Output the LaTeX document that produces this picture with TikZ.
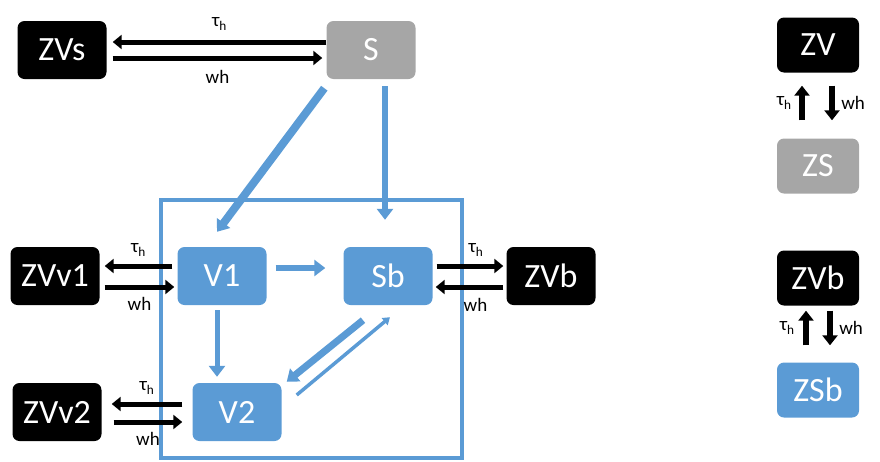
\documentclass[tikz,border=0pt]{standalone}
\usepackage{fontspec}
\setmainfont{Carlito}
\usetikzlibrary{arrows.meta}
\definecolor{zblue}{HTML}{5B9BD5}
\definecolor{zgray}{HTML}{A6A6A6}
\begin{document}
\begin{tikzpicture}[x=1pt,y=-1pt,
  box/.style={rounded corners=7pt,inner sep=0pt,minimum width=89pt,minimum height=58pt,
    text=white,font=\fontsize{34}{36}\selectfont},
  blk/.style={box,fill=black},
  gry/.style={box,fill=zgray},
  blu/.style={box,fill=zblue},
  sml/.style={minimum width=82pt,minimum height=55pt},
  flow/.style={line width=5pt,-{Triangle[length=9pt,width=14pt]}},
  upflow/.style={line width=6pt,-{Triangle[length=10pt,width=15pt]}},
  link/.style={zblue,line width=#1,-{Triangle[length=11pt,width=16pt]}},
  lbl/.style={font=\fontsize{19}{21}\selectfont}]
\useasboundingbox (0,0) rectangle (880,461);
\draw[zblue,line width=3.5pt] (161,200) rectangle (462,458);
\node[blk] (zvs) at (62,50) {ZVs};
\node[gry] (s) at (371,50) {S};
\node[blu] (v1) at (222,276) {V1};
\node[blu] (sb) at (388,276) {Sb};
\node[blu] (v2) at (237,412) {V2};
\node[blk] (zvv1) at (55,276) {ZVv1};
\node[blk] (zvb) at (551,276) {ZVb};
\node[blk] (zvv2) at (57,412) {ZVv2};
\node[blk,sml] (zv) at (818,45) {ZV};
\node[gry,sml] (zs) at (818,166) {ZS};
\node[blk,sml] (zvbr) at (818,278) {ZVb};
\node[blu,sml] (zsb) at (818,390) {ZSb};
\draw[flow] ([yshift=8pt]s.west) -- node[lbl,above=6pt]{τ\textsubscript{h}} ([xshift=6pt,yshift=8pt]zvs.east);
\draw[flow] ([xshift=6pt,yshift=-8pt]zvs.east) -- node[lbl,below=6pt]{wh} ([xshift=-4pt,yshift=-8pt]s.west);
\draw[flow] ([xshift=-5pt,yshift=10pt]v1.west) -- node[lbl,above=4pt]{τ\textsubscript{h}} ([xshift=5pt,yshift=10pt]zvv1.east);
\draw[flow] ([xshift=5pt,yshift=-11pt]zvv1.east) -- node[lbl,below=4pt]{wh} ([xshift=-3pt,yshift=-11pt]v1.west);
\draw[flow] ([xshift=4pt,yshift=10pt]sb.east) -- node[lbl,above=4pt,xshift=6pt]{τ\textsubscript{h}} ([xshift=-3pt,yshift=10pt]zvb.west);
\draw[flow] ([xshift=-3pt,yshift=-11pt]zvb.west) -- node[lbl,below=5pt,xshift=6pt]{wh} ([xshift=3pt,yshift=-11pt]sb.east);
\draw[flow] ([xshift=-10pt,yshift=8pt]v2.west) -- node[lbl,above=4pt]{τ\textsubscript{h}} ([xshift=10pt,yshift=8pt]zvv2.east);
\draw[flow] ([xshift=12pt,yshift=-10pt]zvv2.east) -- node[lbl,below=4pt]{wh} ([xshift=-10pt,yshift=-10pt]v2.west);
\draw[upflow] ([xshift=-16pt,yshift=18pt]zs.north) -- node[lbl,left=4pt]{τ\textsubscript{h}} ([xshift=-16pt,yshift=-13pt]zv.south);
\draw[upflow] ([xshift=14pt,yshift=-13pt]zv.south) -- node[lbl,right=3pt]{wh} ([xshift=14pt,yshift=18pt]zs.north);
\draw[upflow] ([xshift=-12pt,yshift=17pt]zsb.north) -- node[lbl,left=5pt]{τ\textsubscript{h}} ([xshift=-12pt,yshift=-5pt]zvbr.south);
\draw[upflow] ([xshift=12pt,yshift=-5pt]zvbr.south) -- node[lbl,right=3pt]{wh} ([xshift=12pt,yshift=17pt]zsb.north);
\draw[link=8pt] ([xshift=-2pt,yshift=-9pt]s.south west) -- ([xshift=-5pt,yshift=15pt]v1.north);
\draw[link=5.5pt] ([xshift=14pt,yshift=-7pt]s.south) -- ([xshift=-3pt,yshift=27pt]sb.north);
\draw[link=6pt] ([xshift=9pt,yshift=8pt]v1.east) -- ([xshift=-18pt,yshift=8pt]sb.west);
\draw[link=5pt] ([xshift=-5pt,yshift=-5pt]v1.south) -- ([xshift=-20pt,yshift=6pt]v2.north);
\draw[link=7pt] ([xshift=-25pt,yshift=-15pt]sb.south) -- ([xshift=5pt,yshift=1pt]v2.north east);
\draw[zblue,line width=3.5pt,-{Triangle[length=7pt,width=9pt]}] ([xshift=15pt,yshift=17pt]v2.east) -- ([xshift=2pt,yshift=-12pt]sb.south);
\end{tikzpicture}
\end{document}
